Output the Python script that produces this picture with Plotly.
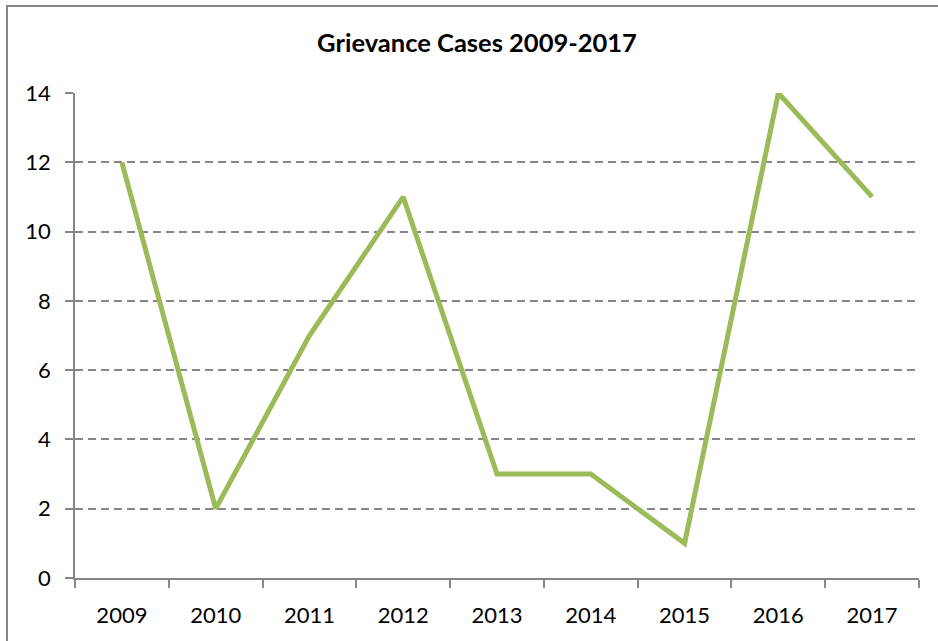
import plotly.graph_objects as go

years = ['2009', '2010', '2011', '2012', '2013', '2014', '2015', '2016', '2017']
cases = [12, 2, 7, 11, 3, 3, 1, 14, 11]

y_ticks = [0, 2, 4, 6, 8, 10, 12, 14]

GREEN = '#9BBB59'
GREY  = '#868686'
FONT  = 'Lato'

fig = go.Figure()

fig.add_trace(go.Scatter(x=years,
                         y=cases,
                         mode='lines',
                         line=dict(color=GREEN, width=5),
                         hoverinfo='x+y'))

fig.update_xaxes(type='category',
                 range=[-0.5, len(years) - 0.5],
                 showgrid=False,
                 showline=True,
                 linecolor=GREY,
                 linewidth=1.5,
                 ticks='outside',
                 tickson='boundaries',
                 ticklen=8,
                 tickwidth=1.5,
                 tickcolor=GREY,
                 ticklabelstandoff=17,
                 tickfont=dict(family=FONT, size=22, color='black'))

fig.update_yaxes(range=[0, 14],
                 tickvals=y_ticks,
                 showgrid=True,
                 gridcolor=GREY,
                 gridwidth=1.5,
                 griddash='8px,5px',
                 zeroline=False,
                 showline=True,
                 linecolor=GREY,
                 linewidth=1.5,
                 ticks='outside',
                 ticklen=8,
                 tickwidth=1.5,
                 tickcolor=GREY,
                 ticklabelstandoff=10,
                 tickfont=dict(family=FONT, size=22, color='black'))

# chart-area border (Excel style), right and bottom edges fall outside the picture
fig.add_shape(type='rect',
              xref='paper', yref='paper',
              x0=(7 - 75) / 844, x1=(950 - 75) / 844,
              y0=-0.3, y1=1 + (93 - 6) / 485,
              line=dict(color=GREY, width=2),
              layer='below')

fig.update_layout(width=938,
                  height=641,
                  title=dict(text='<b>Grievance Cases 2009-2017</b>',
                             x=477 / 938, xanchor='center',
                             y=1 - 43 / 641, yanchor='middle',
                             yref='container',
                             font=dict(family=FONT, size=25.5, color='black')),
                  plot_bgcolor='white',
                  paper_bgcolor='white',
                  showlegend=False,
                  margin=dict(l=75, r=19, t=93, b=63))

fig.write_html('out.html',
               config={'displayModeBar': False},
               post_script="document.body.style.margin='0';")
